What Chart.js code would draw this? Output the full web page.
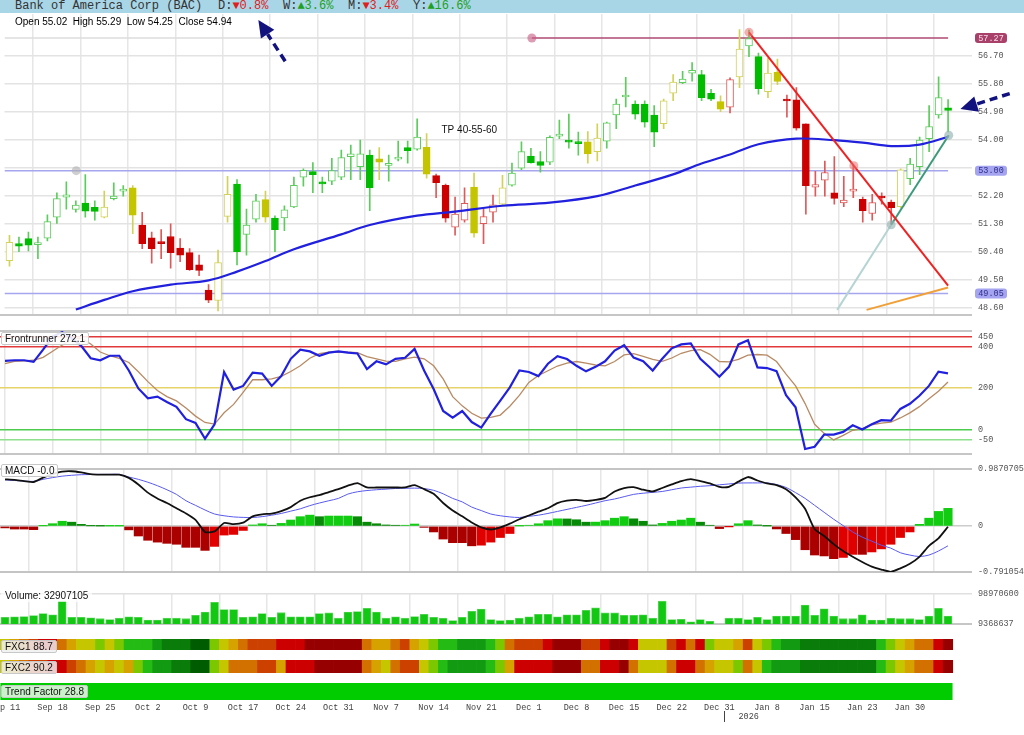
<!DOCTYPE html>
<html><head><meta charset="utf-8">
<script src="https://cdn.jsdelivr.net/npm/chart.js@4.4.1/dist/chart.umd.min.js"></script>
<style>
html,body{margin:0;padding:0;background:#fff;}
body{width:1024px;height:735px;overflow:hidden;position:relative;font-family:'Liberation Sans',Arial,sans-serif;}
canvas{position:absolute;left:0;}
#hdr{position:absolute;left:0;top:0;width:1024px;height:13px;background:#a9d6e7;z-index:5;font:12px 'Liberation Mono',monospace;color:#333;}
#hdr > span{position:absolute;top:0;line-height:13px;white-space:pre;}
.dn{color:#e02020}.up{color:#20a020}
#ohlc{position:absolute;left:15px;top:16px;font:10px 'Liberation Sans',Arial,sans-serif;color:#000;z-index:5;white-space:pre}
.tag{position:absolute;left:1px;font:10px 'Liberation Sans',Arial,sans-serif;color:#111;background:rgba(255,255,255,0.88);border:1px solid #c8c8c8;border-radius:2px;padding:0 3px;height:11px;line-height:11px;z-index:5;white-space:pre}
</style></head>
<body>
<div id="hdr"><span style="left:15px">Bank of America Corp (BAC)</span><span style="left:218px">D:<span class="dn">▼0.8%</span></span><span style="left:283px">W:<span class="up">▲3.6%</span></span><span style="left:348px">M:<span class="dn">▼3.4%</span></span><span style="left:413px">Y:<span class="up">▲16.6%</span></span></div>
<div id="ohlc"></div>
<div class="tag" id="tFront" style="top:332px"></div>
<div class="tag" id="tMacd" style="top:464px"></div>
<div class="tag" id="tVol" style="top:589px;border-color:transparent;background:rgba(255,255,255,0.7)"></div>
<div class="tag" id="tF1" style="top:640px;background:rgba(240,240,240,0.85)"></div>
<div class="tag" id="tF2" style="top:661px;background:rgba(240,240,240,0.85)"></div>
<div class="tag" id="tTrend" style="top:685px;background:rgba(225,245,225,0.9)"></div>
<script>
// ---------------- DATA ----------------
const tickIdx  = [0,5,10,15,20,25,30,35,40,45,50,55,60,65,70,75,80,85,90,95];
const tickText = ['Sep 11','Sep 18','Sep 25','Oct 2','Oct 9','Oct 17','Oct 24','Oct 31','Nov 7','Nov 14','Nov 21','Dec 1','Dec 8','Dec 15','Dec 22','Dec 31','Jan 8','Jan 15','Jan 23','Jan 30'];
const yearMarks = [{at:75.5, text:'2026'}];

const opens = [50.10,50.65,50.81,50.62,50.83,51.50,52.15,51.75,51.96,51.82,
 51.50,52.10,52.34,52.45,51.25,50.84,50.66,50.88,50.51,50.36,
 49.97,49.16,48.82,51.53,52.57,50.95,51.44,52.07,51.47,51.48,
 51.83,52.79,52.97,52.64,52.66,52.79,53.45,53.13,53.50,53.38,
 53.17,53.37,53.74,53.69,53.75,52.84,52.53,51.18,51.41,52.47,
 51.29,51.66,51.92,52.53,53.08,53.47,53.29,53.27,54.11,53.93,
 53.88,53.93,53.61,53.95,54.79,55.37,55.14,55.14,54.79,54.51,
 55.49,55.83,56.14,56.09,55.49,55.22,55.04,56.02,57.01,56.67,
 55.54,56.17,55.25,55.28,54.51,52.47,52.69,52.29,51.96,52.34,
 52.08,51.62,52.13,51.99,51.84,52.74,53.13,54.03,54.79,55.02];
const highs = [50.92,50.86,51.02,50.86,51.58,52.29,52.64,52.03,52.87,52.03,
 52.34,52.61,52.52,52.52,51.66,51.02,51.10,51.29,50.81,50.49,
 50.28,49.33,50.44,52.82,52.71,51.76,52.24,52.34,51.55,51.87,
 52.79,53.06,53.26,52.79,53.40,53.66,53.82,53.98,53.66,53.74,
 53.50,53.95,53.95,54.67,54.19,52.89,52.57,52.15,52.45,52.92,
 51.76,52.21,52.85,53.24,53.93,53.72,53.61,54.12,54.63,54.82,
 54.24,54.26,54.51,54.56,55.30,56.00,55.25,55.25,55.09,55.30,
 56.09,56.20,56.48,56.23,55.62,55.41,55.99,57.54,57.52,56.78,
 56.62,56.59,55.43,55.67,54.51,52.98,53.31,53.45,52.82,53.19,
 52.15,52.24,52.29,52.05,53.06,53.40,54.08,55.09,56.02,55.29];
const lows = [49.93,50.39,50.42,50.17,50.74,51.30,51.76,51.66,51.50,51.41,
 51.48,52.06,52.18,50.97,50.49,50.02,50.17,49.86,50.07,49.79,
 49.62,48.75,48.49,51.34,49.97,50.28,51.34,51.34,50.39,51.07,
 51.81,52.50,52.29,52.29,52.55,52.71,52.71,52.71,51.71,52.71,
 52.66,53.31,53.24,53.66,52.76,52.13,51.34,50.92,51.34,50.86,
 50.65,51.34,51.87,52.50,53.03,53.24,52.95,53.19,54.03,53.72,
 53.50,53.24,53.31,53.72,54.35,55.05,54.66,54.40,53.77,54.35,
 55.25,55.80,55.88,55.25,55.25,54.90,54.86,55.67,56.67,55.46,
 55.35,55.77,54.72,54.30,51.60,52.18,52.18,51.92,51.84,52.13,
 51.34,51.41,51.92,51.27,51.79,52.55,52.87,53.61,54.69,54.25];
const closes = [50.69,50.57,50.60,50.63,51.36,52.10,52.22,51.89,51.70,51.69,
 51.83,52.18,52.39,51.57,50.65,50.49,50.65,50.36,50.28,49.81,
 49.79,48.83,50.04,52.24,50.39,51.25,52.03,51.50,51.10,51.74,
 52.53,53.01,52.87,52.57,53.00,53.42,53.54,53.54,52.45,53.27,
 53.18,53.38,53.64,54.08,52.89,52.61,51.47,51.60,51.95,50.99,
 51.52,51.90,52.45,52.92,53.61,53.26,53.17,54.07,54.12,53.92,
 53.87,53.54,54.05,54.54,55.14,55.38,54.82,54.56,54.24,55.25,
 55.85,55.95,56.23,55.35,55.30,54.98,55.93,56.91,57.25,55.64,
 56.14,55.87,55.24,54.37,52.52,52.55,52.94,52.11,52.05,52.40,
 51.71,51.97,52.12,51.81,53.03,53.21,53.98,54.42,55.35,54.94];
// signal tone of each candle: g = green, y = yellow, r = red
const tones = 'yggggggggg' + 'yggyrrrrrr' + 'rryygggygg' + 'gggggggggy' + 'ggggyrrrry' +
              'rrygggggggg'.slice(0,10) + 'gyyggggggy' + 'yggggyryggy'.slice(0,10) + 'yyrrrrrrrr' + 'rrrryggggg';

const maIdx = [7,10,13,17,21,24,27,30,35,38,43,47,52,57,62,66,70,73,76,79,83,87,90,93,96,99];
const maVal = [48.53,48.84,49.12,49.33,49.47,49.75,50.09,50.47,50.95,51.25,51.55,51.68,51.87,51.97,52.18,52.52,52.88,53.23,53.52,53.85,54.03,53.98,53.90,53.79,53.84,54.09];

const frontrunner = [333,336,336,328,388,451,473,443,406,346,
 336,358,358,286,199,151,159,133,109,49,
 31,-46,24,279,193,211,276,271,211,259,
 343,387,379,358,373,379,373,369,293,331,
 316,343,348,391,286,196,89,57,89,35,
 8,76,139,204,286,279,259,319,356,342,
 309,282,304,331,383,409,349,331,286,343,
 394,413,418,343,301,256,304,413,433,301,
 298,283,166,107,-96,-85,-26,-26,-13,19,
 -1,24,44,42,99,124,163,211,280,272.1];
const frontSignal = [320,331,333,336,350,380,410,437,443,415,
 376,358,345,325,280,232,189,159,138,104,
 64,33,25,80,121,180,241,241,245,258,
 281,309,346,368,375,376,375,373,354,343,
 332,331,343,351,343,309,245,159,114,78,
 54,58,69,112,165,228,262,285,308,322,
 330,322,313,309,330,362,368,355,340,331,
 347,370,383,388,365,330,328,340,361,364,
 361,330,268,211,125,24,-20,-52,-30,-5,
 3,22,30,35,55,80,110,148,185,230];
const frontLevels = [450,400,200,0,-50];

const macdLine = [0.81,0.80,0.78,0.764,0.84,0.90,0.944,0.95,0.93,0.90,
 0.891,0.891,0.891,0.835,0.72,0.58,0.48,0.40,0.31,0.22,
 0.11,-0.10,-0.09,0.055,0.035,0.06,0.17,0.205,0.218,0.26,
 0.33,0.44,0.50,0.535,0.59,0.64,0.70,0.745,0.67,0.669,
 0.669,0.669,0.67,0.711,0.64,0.56,0.40,0.27,0.17,0.065,
 -0.02,-0.058,-0.021,0.045,0.12,0.185,0.25,0.31,0.40,0.44,
 0.455,0.435,0.455,0.49,0.60,0.66,0.675,0.63,0.60,0.66,
 0.722,0.78,0.815,0.78,0.74,0.68,0.68,0.77,0.85,0.79,
 0.74,0.71,0.64,0.50,0.30,-0.05,-0.17,-0.31,-0.43,-0.53,
 -0.62,-0.70,-0.75,-0.79,-0.73,-0.65,-0.53,-0.34,-0.21,-0.01];
const macdSignal = [0.80,0.79,0.78,0.775,0.81,0.84,0.865,0.88,0.89,0.893,
 0.895,0.896,0.896,0.85,0.81,0.76,0.70,0.63,0.55,0.44,
 0.36,0.28,0.21,0.18,0.16,0.152,0.15,0.165,0.19,0.22,
 0.26,0.30,0.355,0.40,0.44,0.48,0.555,0.595,0.616,0.63,
 0.64,0.652,0.655,0.658,0.65,0.62,0.56,0.48,0.42,0.33,
 0.27,0.21,0.18,0.16,0.15,0.17,0.19,0.22,0.255,0.29,
 0.325,0.36,0.40,0.44,0.47,0.51,0.55,0.57,0.585,0.60,
 0.63,0.66,0.675,0.69,0.70,0.715,0.73,0.745,0.748,0.748,
 0.748,0.72,0.67,0.58,0.48,0.36,0.24,0.12,0.01,-0.10,
 -0.19,-0.26,-0.33,-0.38,-0.46,-0.50,-0.525,-0.50,-0.43,-0.34];
const macdHist = [-0.03,-0.05,-0.05,-0.06,0.005,0.043,0.085,0.069,0.032,0.005,
 0.002,0.002,0.002,-0.064,-0.17,-0.244,-0.276,-0.297,-0.313,-0.366,
 -0.366,-0.419,-0.35,-0.154,-0.143,-0.074,0.021,0.042,0.016,0.048,
 0.106,0.164,0.191,0.164,0.175,0.175,0.175,0.164,0.069,0.042,
 0.021,0.016,0.016,0.037,-0.021,-0.10,-0.223,-0.286,-0.286,-0.34,
 -0.329,-0.276,-0.196,-0.127,0.003,0.016,0.042,0.095,0.127,0.125,
 0.111,0.069,0.07,0.095,0.138,0.164,0.127,0.085,0.021,0.048,
 0.085,0.106,0.138,0.069,0.016,-0.042,-0.003,0.042,0.095,0.021,
 0.002,-0.048,-0.127,-0.233,-0.408,-0.499,-0.515,-0.562,-0.541,-0.488,
 -0.488,-0.446,-0.393,-0.313,-0.196,-0.10,0.032,0.138,0.255,0.308];
const macdRange = [-0.791054, 0.9870705];

// volume in millions of shares
const volumeM = [28.9,30.5,31.3,34.4,40.7,36.8,77.7,28.9,28.9,27.4,
 25.0,22.6,26.6,30.5,28.9,21.1,21.1,26.6,26.6,25.0,
 35.2,44.7,74.5,52.5,52.5,28.9,30.5,40.7,28.9,43.1,
 30.5,30.5,30.5,40.7,42.3,26.6,44.7,46.2,56.5,44.7,
 26.6,30.5,26.6,31.3,38.4,28.9,26.6,19.5,28.9,47.0,
 54.1,22.6,19.5,21.1,26.6,30.5,38.4,38.4,30.5,36.8,
 36.8,50.2,58.0,42.3,42.3,35.2,35.2,36.8,26.6,77.7,
 22.6,23.4,15.6,22.6,17.2,null,26.6,26.6,22.6,28.9,
 22.6,32.8,32.8,32.8,65.9,35.2,54.9,32.8,25.0,25.0,
 36.8,21.1,21.1,26.6,25.0,25.0,22.6,32.8,56.5,32.907105];
const volumeRangeM = [9.368637, 98.9706];

// heat strips, colour level 0 (dark green) .. 10 (dark red)
const fxc1 = [5,6,7,8,9,9,7,6,5,5, 4,5,4,3,3,3,2,1,1,1, 0,0,4,5,6,7,8,8,8,9,
 9,9,10,10,10,10,10,10,7,6, 6,7,8,6,5,4,3,3,2,2, 2,3,4,7,8,8,8,9,10,10,
 10,8,8,9,10,10,9,5,5,5, 8,9,7,9,4,5,5,6,8,5, 4,3,2,2,1,1,1,1,1,1,
 1,1,3,4,5,6,7,7,9,10];
const fxc2 = [5,6,7,8,8,9,9,8,7,6, 5,6,5,6,4,3,2,2,1,1, 0,0,4,5,7,7,7,8,8,6,
 9,9,9,10,10,10,10,10,7,6, 5,7,8,8,5,4,3,2,2,2, 2,3,4,6,9,9,9,9,10,10,
 10,7,7,9,9,10,7,5,5,5, 7,9,9,7,6,5,5,4,7,5, 3,2,2,2,1,1,1,1,1,1,
 1,1,3,4,5,6,7,7,9,10];
const fxc1Last = 88.7, fxc2Last = 90.2;
const trendFactor = 28.8;
const trendSpan = [-0.5, 99.5];

// price reference levels & drawn studies
const levelTop = 57.27, levelMid = 53.00, levelLow = 49.05;
const levelTopFrom = 55.1, levelSpan = [-0.525, 99];
const redTrend = [[78,57.45],[99,49.30]];
const orangeTrend = [[90.4,48.52],[99,49.24]];
const greenTrend = [[93,51.26],[99.07,54.14]];
const greenTrendExt = [[87.3,48.52],[93,51.26]];
const anchorPts = [[78,57.45],[89.06,53.16],[55.1,57.27],[7.04,53.0],[93,51.26],[99.07,54.14]];
const arrows = [{from:[29.08,56.52], to:[26.25,57.85]}, {from:[105.5,55.48], to:[100.3,54.98]}];
const noteText = {x:48.5, y:54.3, text:'TP 40-55-60'};
const priceTicks = [48.6,49.5,50.4,51.3,52.2,53.1,54.0,54.9,55.8,56.7];
const priceRange = [48.358, 58.041];

// ---------------- RENDER ----------------
const MONO = "'Liberation Mono','Courier New',monospace";
const SANS = "'Liberation Sans',Arial,sans-serif";
Chart.defaults.font.family = SANS;
Chart.defaults.animation = false;
Chart.defaults.responsive = false;
Chart.defaults.devicePixelRatio = 1;
Chart.defaults.events = [];
Chart.defaults.plugins.legend.display = false;
Chart.defaults.plugins.tooltip.enabled = false;

const N = opens.length;
const idx = opens.map((_, i) => i);
const X_MIN = -0.525, X_MAX = X_MIN + 972 / 9.525;
const GRID = '#e6e6e6';

function mk(top, h) {
  const c = document.createElement('canvas');
  c.width = 1024; c.height = h;
  c.style.top = top + 'px'; c.style.width = '1024px'; c.style.height = h + 'px';
  document.body.appendChild(c);
  return c;
}
function xAxis(o = {}) {
  return {
    type: 'linear', min: X_MIN, max: X_MAX, offset: false, display: o.display !== false,
    border: {display: false},
    grid: {display: o.grid !== false, color: GRID, lineWidth: 1.5, drawTicks: false},
    ticks: {display: !!o.labels, autoSkip: false, maxRotation: 0, minRotation: 0, padding: 3, color: '#444',
            font: {family: MONO, size: 8.5}, callback: (v, i) => tickText[i]},
    afterBuildTicks: s => { s.ticks = tickIdx.map(v => ({value: v})); },
    afterFit: s => { s.paddingLeft = 0; s.paddingRight = 0; if (o.height != null) s.height = o.height; }
  };
}
function yAxis(min, max, ticks, fmt, gridColor, gridWidth) {
  return {
    position: 'right', min, max, border: {display: false},
    grid: {color: gridColor, lineWidth: gridWidth, drawTicks: false},
    ticks: {padding: 6, color: '#555', autoSkip: false, font: {family: MONO, size: 8.5}, callback: fmt},
    afterBuildTicks: s => { s.ticks = ticks.map(v => ({value: v})); },
    afterFit: s => { s.width = 52; }
  };
}
const frame = {
  id: 'frame',
  beforeDatasetsDraw(chart, a, o) {
    if (!o || !o.lines) return;
    const {ctx, chartArea: ca} = chart;
    ctx.save(); ctx.strokeStyle = o.color || '#c6c6c6'; ctx.lineWidth = o.width || 2;
    o.lines.forEach(w => { const yy = w === 'top' ? ca.top : ca.bottom; ctx.beginPath(); ctx.moveTo(0, yy); ctx.lineTo(ca.right, yy); ctx.stroke(); });
    ctx.restore();
  }
};
const pts = arr => arr.map(p => ({x: p[0], y: p[1]}));
const lineDs = (data, color, width, order, extra = {}) => Object.assign({type: 'line', data, borderColor: color, borderWidth: width, pointRadius: 0, fill: false, order}, extra);

// ---- price panel ----
const toneCol = {g: {fill: '#00bb00', line: '#5ccc5c'}, y: {fill: '#c4c400', line: '#d2d25a'}, r: {fill: '#cc0000', line: '#dd5a5a'}};
const priceAnno = {
  id: 'priceAnno',
  afterDatasetsDraw(chart) {
    const {ctx, scales: {x, y}} = chart;
    ctx.save();
    ctx.font = '10px ' + SANS; ctx.fillStyle = '#111'; ctx.textAlign = 'center'; ctx.textBaseline = 'middle';
    ctx.fillText(noteText.text, x.getPixelForValue(noteText.x), y.getPixelForValue(noteText.y));
    arrows.forEach(ar => {
      const x0 = x.getPixelForValue(ar.from[0]), y0 = y.getPixelForValue(ar.from[1]);
      const x1 = x.getPixelForValue(ar.to[0]), y1 = y.getPixelForValue(ar.to[1]);
      const ang = Math.atan2(y1 - y0, x1 - x0), L = 17, W = 8;
      const bx = x1 - L * Math.cos(ang), by = y1 - L * Math.sin(ang);
      ctx.strokeStyle = '#12127e'; ctx.fillStyle = '#12127e'; ctx.lineWidth = 3.5; ctx.setLineDash([8, 5]);
      ctx.beginPath(); ctx.moveTo(x0, y0); ctx.lineTo(bx, by); ctx.stroke();
      ctx.setLineDash([]);
      ctx.beginPath(); ctx.moveTo(x1, y1);
      ctx.lineTo(bx + W * Math.sin(ang), by - W * Math.cos(ang));
      ctx.lineTo(bx - W * Math.sin(ang), by + W * Math.cos(ang));
      ctx.closePath(); ctx.fill();
    });
    const boxes = [[levelTop, '#a8406a', '#f6dde8'], [levelMid, '#a4a4f0', '#30308a'], [levelLow, '#a4a4f0', '#30308a']];
    boxes.forEach(b => {
      const py = y.getPixelForValue(b[0]);
      ctx.fillStyle = b[1];
      ctx.beginPath(); ctx.roundRect(975, py - 5, 32, 10, 3); ctx.fill();
      ctx.fillStyle = b[2]; ctx.font = '8.5px ' + MONO; ctx.textAlign = 'center';
      ctx.fillText(b[0].toFixed(2), 991, py + 0.5);
    });
    ctx.restore();
  }
};
new Chart(mk(0, 326), {
  type: 'bar',
  data: {datasets: [
    lineDs(pts([[levelSpan[0], levelTop], [levelTopFrom, levelTop]]), '#dcdcdc', 1.5, 9),
    lineDs(pts([[levelTopFrom, levelTop], [levelSpan[1], levelTop]]), '#b04872', 1.5, 8),
    lineDs(pts([[levelSpan[0], levelMid], [levelSpan[1], levelMid]]), '#a6a6ee', 1.5, 8),
    lineDs(pts([[levelSpan[0], levelLow], [levelSpan[1], levelLow]]), '#a6a6ee', 1.5, 8),
    {type: 'bar', data: idx.map(i => ({x: i, y: [lows[i], highs[i]]})), backgroundColor: idx.map(i => toneCol[tones[i]].line),
     grouped: false, categoryPercentage: 1, barPercentage: 1, maxBarThickness: 1, order: 5},
    {type: 'bar', data: idx.map(i => ({x: i, y: [opens[i], closes[i]]})),
     backgroundColor: idx.map(i => closes[i] > opens[i] ? '#ffffff' : toneCol[tones[i]].fill),
     borderColor: idx.map(i => closes[i] > opens[i] ? toneCol[tones[i]].line : toneCol[tones[i]].fill),
     borderWidth: 1, borderSkipped: false, minBarLength: 2,
     grouped: false, categoryPercentage: 1, barPercentage: 1, maxBarThickness: 7, order: 4},
    lineDs(maIdx.map((v, k) => ({x: v, y: maVal[k]})), '#2020dd', 2.2, 3, {tension: 0.35}),
    lineDs(pts(greenTrendExt), '#b6d4d4', 2, 2),
    lineDs(pts(redTrend), '#ee2222', 2, 2),
    lineDs(pts(orangeTrend), '#f0a038', 2, 2),
    lineDs(pts(greenTrend), '#3c9a7c', 2, 2),
    lineDs(pts(anchorPts), 'transparent', 0, 1, {showLine: false, pointRadius: 4.5, borderWidth: 0,
      pointBackgroundColor: ['rgba(235,110,110,0.55)', 'rgba(235,110,110,0.55)', 'rgba(200,90,130,0.6)', 'rgba(175,175,175,0.6)', 'rgba(150,180,180,0.65)', 'rgba(150,180,180,0.65)']})
  ]},
  options: {
    layout: {padding: {top: 14, bottom: 6, left: 0, right: 0}},
    scales: {
      x: xAxis(),
      y: yAxis(priceRange[0], priceRange[1], priceTicks, v => (Math.abs(v - 53.1) < 1e-6 ? '' : v.toFixed(2)), '#e3e3e3', 1.5)
    },
    plugins: {frame: {lines: ['bottom']}}
  },
  plugins: [frame, priceAnno]
});

// ---- Frontrunner ----
const levelColor = {450: '#e23a3a', 400: '#e23a3a', 200: '#e6d46a', 0: '#4ccc4c', '-50': '#8ee08e'};
new Chart(mk(320, 145), {
  type: 'line',
  data: {datasets: [
    lineDs(idx.map(i => ({x: i, y: frontSignal[i]})), '#b88a64', 1.3, 2),
    lineDs(idx.map(i => ({x: i, y: frontrunner[i]})), '#2020dd', 2.2, 1)
  ]},
  options: {
    layout: {padding: {top: 6, bottom: 6}},
    scales: {x: xAxis(), y: yAxis(-120, 478, frontLevels, v => String(v), c => levelColor[c.tick.value] || GRID, 1.5)},
    plugins: {frame: {lines: ['top', 'bottom']}}
  },
  plugins: [frame]
});

// ---- MACD ----
const histColors = macdHist.map((v, i) => {
  const p = i ? macdHist[i - 1] : v;
  if (v >= 0) return v >= p ? '#11cc11' : '#078a07';
  return v <= p ? '#aa0000' : '#e00000';
});
new Chart(mk(458, 125), {
  type: 'bar',
  data: {datasets: [
    {type: 'bar', data: idx.map(i => ({x: i, y: macdHist[i]})), backgroundColor: histColors, grouped: false,
     categoryPercentage: 1, barPercentage: 1, maxBarThickness: 8.5, order: 3},
    lineDs(idx.map(i => ({x: i, y: macdSignal[i]})), '#5a5aee', 1, 2, {tension: 0.3}),
    lineDs(idx.map(i => ({x: i, y: macdLine[i]})), '#111111', 1.8, 1, {tension: 0.2})
  ]},
  options: {
    layout: {padding: {top: 6, bottom: 6}},
    scales: {x: xAxis(), y: yAxis(macdRange[0], macdRange[1], [macdRange[0], 0, macdRange[1]], v => String(v),
      c => c.tick.value === 0 ? '#cccccc' : '#c4c4c4', c => c.tick.value === 0 ? 1.5 : 2)},
  }
});

// ---- Volume ----
new Chart(mk(583, 52), {
  type: 'bar',
  data: {datasets: [
    {data: idx.map(i => ({x: i, y: volumeM[i]})), backgroundColor: '#12c812', borderColor: '#5fd85f', borderWidth: 0.8,
     grouped: false, categoryPercentage: 1, barPercentage: 1, maxBarThickness: 8}
  ]},
  options: {
    layout: {padding: {top: 7, bottom: 7}},
    scales: {x: xAxis(), y: yAxis(volumeRangeM[0], volumeRangeM[1], volumeRangeM, v => String(Math.round(v * 1e6)), '#e0e0e0', 1.5)},
    plugins: {frame: {lines: ['bottom'], color: '#c6c6c6'}}
  },
  plugins: [frame]
});

// ---- Heat strips ----
const heatPalette = ['#005c00', '#0a7c0a', '#139a13', '#24bb14', '#7cc800', '#c6c600', '#d6a200', '#d27000', '#cc4000', '#cc0000', '#960000'];
function strip(top, h, padTop, padBottom, levels) {
  new Chart(mk(top, h), {
    type: 'bar',
    data: {datasets: [{data: idx.map(i => ({x: i, y: [0, 1]})), backgroundColor: levels.map(l => heatPalette[l]),
      grouped: false, categoryPercentage: 1, barPercentage: 1, borderWidth: 0}]},
    options: {
      layout: {padding: {top: padTop, bottom: padBottom, right: 52}},
      scales: {x: xAxis({display: false}), y: {display: false, min: 0, max: 1}}
    }
  });
}
strip(636, 18, 3, 4, fxc1);
strip(657, 20, 3, 4, fxc2);

// ---- Trend factor + date axis ----
const yearPlugin = {
  id: 'year',
  afterDraw(chart) {
    const {ctx, scales: {x}, chartArea: ca} = chart;
    ctx.save(); ctx.strokeStyle = '#444'; ctx.lineWidth = 1; ctx.fillStyle = '#444';
    ctx.font = '8.5px ' + MONO; ctx.textBaseline = 'middle';
    yearMarks.forEach(m => {
      const px = Math.round(x.getPixelForValue(m.at)) + 0.5;
      ctx.beginPath(); ctx.moveTo(px, ca.bottom + 11); ctx.lineTo(px, ca.bottom + 22); ctx.stroke();
      ctx.fillText(m.text, px + 14, ca.bottom + 17);
    });
    ctx.restore();
  }
};
new Chart(mk(683, 52), {
  type: 'line',
  data: {datasets: [lineDs(pts([[trendSpan[0], 1], [trendSpan[1], 1]]), '#00cc00', 0, 1, {fill: 'origin', backgroundColor: '#00cc00'})]},
  options: {
    layout: {padding: {top: 0, bottom: 0, right: 52}},
    scales: {x: xAxis({grid: false, labels: true, height: 35}), y: {display: false, min: 0, max: 1}}
  },
  plugins: [yearPlugin]
});

// ---- text tags ----
const L = N - 1;
document.getElementById('ohlc').textContent = `Open ${opens[L].toFixed(2)}  High ${highs[L].toFixed(2)}  Low ${lows[L].toFixed(2)}  Close ${closes[L].toFixed(2)}`;
document.getElementById('tFront').textContent = 'Frontrunner ' + frontrunner[L].toFixed(1);
document.getElementById('tMacd').textContent = 'MACD ' + macdLine[L].toFixed(1);
document.getElementById('tVol').textContent = 'Volume: ' + Math.round(volumeM[L] * 1e6);
document.getElementById('tF1').textContent = 'FXC1 ' + fxc1Last.toFixed(1);
document.getElementById('tF2').textContent = 'FXC2 ' + fxc2Last.toFixed(1);
document.getElementById('tTrend').textContent = 'Trend Factor ' + trendFactor.toFixed(1);
</script>
</body></html>
